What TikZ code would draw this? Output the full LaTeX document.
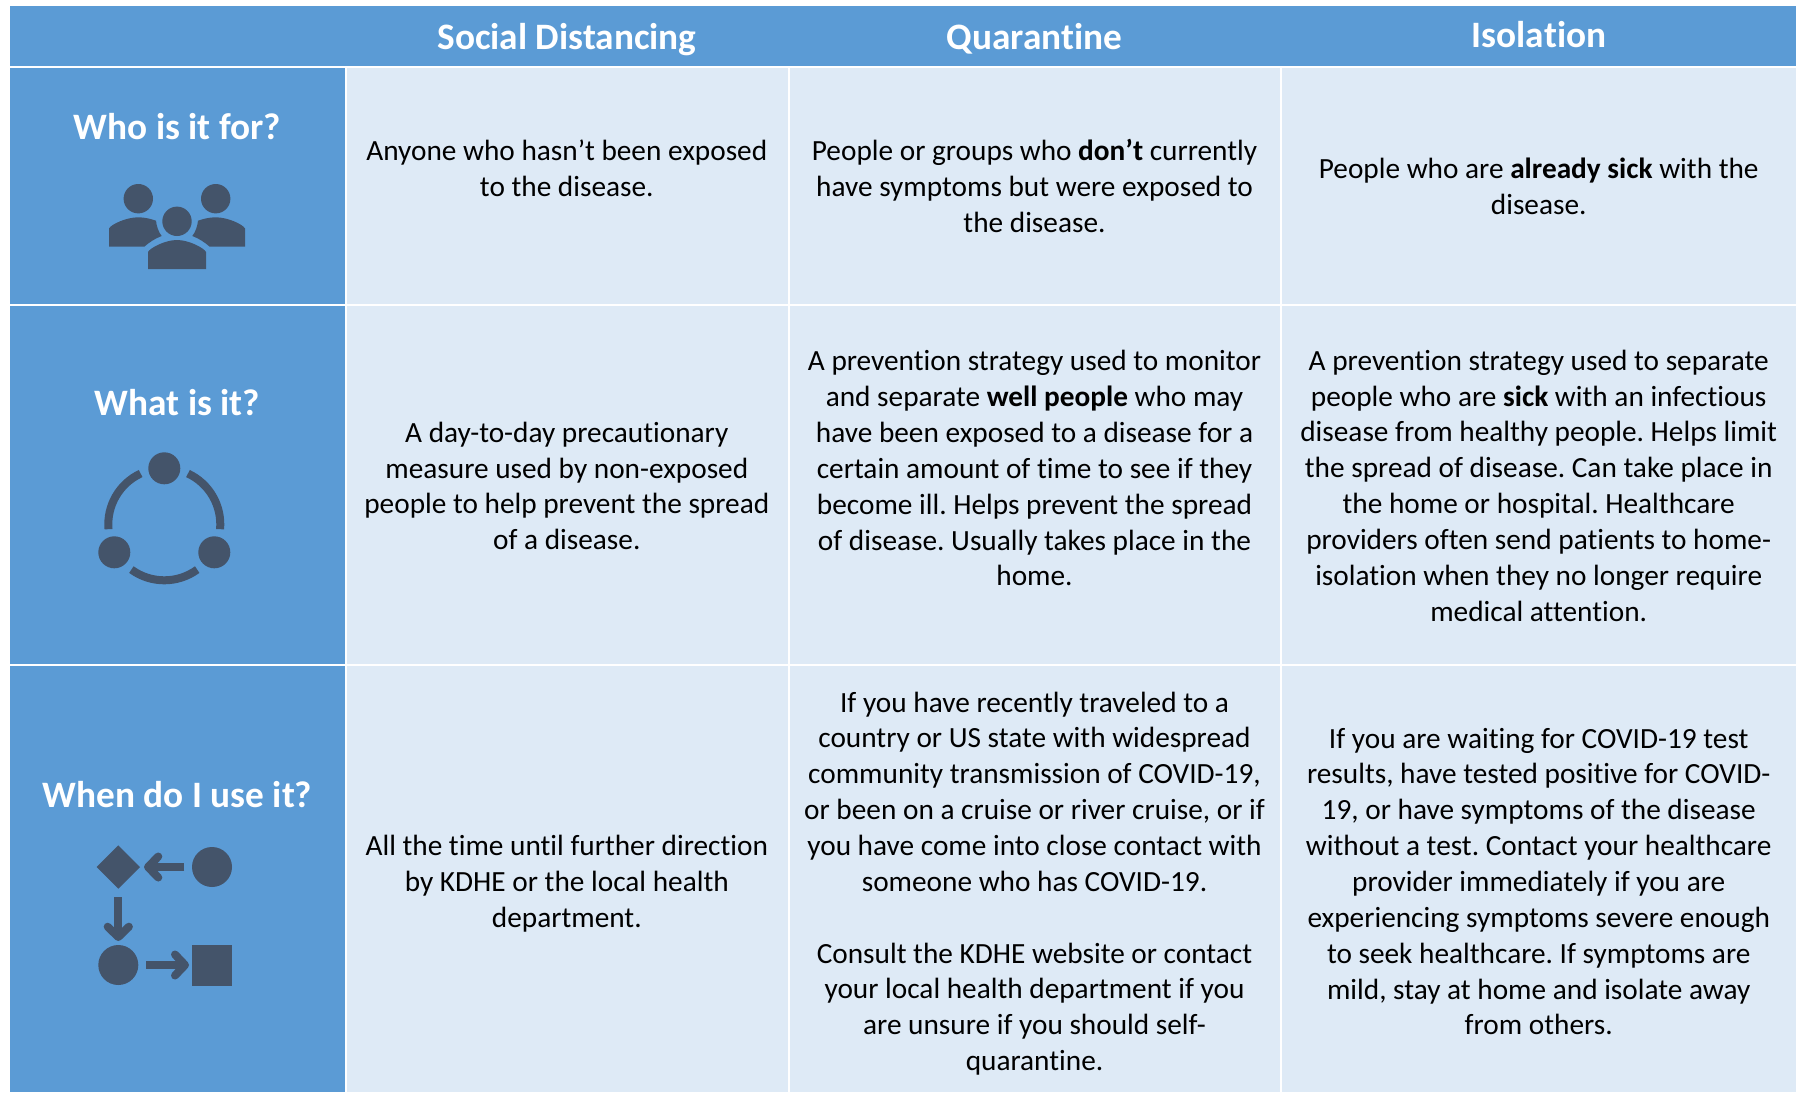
\documentclass[tikz,border=0pt]{standalone}
\usepackage{fontspec}
\setmainfont[Ligatures=NoCommon]{Carlito}
\definecolor{headblue}{HTML}{5B9BD5}
\definecolor{paleblue}{HTML}{DEEAF6}
\definecolor{icondark}{HTML}{44546A}
\tikzset{
  bluecell/.style={fill=headblue,draw=none},
  palecell/.style={fill=paleblue,draw=none},
  bodytext/.style={align=center,text=black,inner sep=0pt,font=\fontsize{29.3}{35.85}\selectfont\frenchspacing},
  headtext/.style={align=center,text=white,inner sep=0pt,font=\fontsize{37.3}{44}\selectfont\bfseries},
  iconfill/.style={fill=icondark,draw=none},
  iconline/.style={draw=icondark,line width=8pt},
  barb/.style={draw=icondark,line width=8pt,line cap=round,line join=round},
}
\begin{document}
\begin{tikzpicture}[x=1pt,y=-1pt]
\useasboundingbox (0,0) rectangle (1803,1092);
\fill[white] (0,0) rectangle (1803,1092);
% cells
\fill[bluecell] (10,6) rectangle (1796,66);
\fill[bluecell] (10,68) rectangle (345,304);
\fill[bluecell] (10,306) rectangle (345,664);
\fill[bluecell] (10,666) rectangle (345,1092);
\fill[palecell] (347,68) rectangle (788,304);
\fill[palecell] (790,68) rectangle (1280,304);
\fill[palecell] (1282,68) rectangle (1796,304);
\fill[palecell] (347,306) rectangle (788,664);
\fill[palecell] (790,306) rectangle (1280,664);
\fill[palecell] (1282,306) rectangle (1796,664);
\fill[palecell] (347,666) rectangle (788,1092);
\fill[palecell] (790,666) rectangle (1280,1092);
\fill[palecell] (1282,666) rectangle (1796,1092);
% headers
\node[headtext] (h1) at (567,39.5) {Social Distancing};
\node[headtext] (h2) at (1034.5,38.5) {Quarantine};
\node[headtext] (h3) at (1539,35) {Isolation};
\node[headtext] (r1) at (177.5,127) {Who is it for?};
\node[headtext] (r2) at (177.5,402.5) {What is it?};
\node[headtext] (r3) at (177.5,794.6) {When do I use it?};
% row 1
\node[bodytext] (a1) at (566.8,168.5) {Anyone who hasn’t been exposed\\to the disease.};
\node[bodytext] (a2) at (1034.5,186.3) {People or groups who \textbf{don’t} currently\\have symptoms but were exposed to\\the disease.};
\node[bodytext] (a3) at (1538.7,186.6) {People who are \textbf{already sick} with the\\disease.};
% row 2
\node[bodytext] (b1) at (566.8,485.9) {A day-to-day precautionary\\measure used by non-exposed\\people to help prevent the spread\\of a disease.};
\node[bodytext] (b2) at (1034.5,468.3) {A prevention strategy used to monitor\\and separate \textbf{well people} who may\\have been exposed to a disease for a\\certain amount of time to see if they\\become ill. Helps prevent the spread\\of disease. Usually takes place in the\\home.};
\node[bodytext] (b3) at (1538.7,485.6) {A prevention strategy used to separate\\people who are \textbf{sick} with an infectious\\disease from healthy people. Helps limit\\the spread of disease. Can take place in\\the home or hospital. Healthcare\\providers often send patients to home-\\isolation when they no longer require\\medical attention.};
% row 3
\node[bodytext] (c1) at (566.8,884) {All the time until further direction\\by KDHE or the local health\\department.};
\node[bodytext] (c2) at (1034.5,883.5) {If you have recently traveled to a\\country or US state with widespread\\community transmission of COVID-19,\\or been on a cruise or river cruise, or if\\you have come into close contact with\\someone who has COVID-19.\\[35.85pt]Consult the KDHE website or contact\\your local health department if you\\are unsure if you should self-\\quarantine.};
\node[bodytext] (c3) at (1538.7,881.5) {If you are waiting for COVID-19 test\\results, have tested positive for COVID-\\19, or have symptoms of the disease\\without a test. Contact your healthcare\\provider immediately if you are\\experiencing symptoms severe enough\\to seek healthcare. If symptoms are\\mild, stay at home and isolate away\\from others.};
% people icon
\fill[iconfill] (138.3,198.7) circle[radius=14.7pt];
\fill[iconfill] (215.7,198.7) circle[radius=14.7pt];
\fill[iconfill] (177,221.3) circle[radius=14.7pt];
\fill[iconfill] (148,269) -- (148,252) .. controls (150,248) and (165,240) .. (177,240) .. controls (189,240) and (204,248) .. (206,252) -- (206,269) -- cycle;
\fill[iconfill] (109,246.7) -- (109,228.5) .. controls (111,224.5) and (126,217.3) .. (138.3,217.3) .. controls (145,217.3) and (151,219) .. (156,220.7) .. controls (156.5,226) and (158.5,232) .. (161.7,236) .. controls (155,238.5) and (149,242.5) .. (144.3,246.7) -- cycle;
\fill[iconfill] (245,246.7) -- (245,228.5) .. controls (243,224.5) and (228,217.3) .. (215.7,217.3) .. controls (209,217.3) and (203,219) .. (198,220.7) .. controls (197.5,226) and (195.5,232) .. (192.3,236) .. controls (199,238.5) and (205,242.5) .. (209.7,246.7) -- cycle;
% cycle icon
\coordinate (cyc) at (164.3,524.3);
\fill[iconfill] (164.3,468.3) circle[radius=16pt];
\fill[iconfill] (114.3,552.3) circle[radius=16pt];
\fill[iconfill] (214.3,552.3) circle[radius=16pt];
\draw[iconline] ([shift={(115:56pt)}]cyc) arc[start angle=115,end angle=185,radius=56pt];
\draw[iconline] ([shift={(65:56pt)}]cyc) arc[start angle=65,end angle=-5,radius=56pt];
\draw[iconline] ([shift={(234:56pt)}]cyc) arc[start angle=234,end angle=306,radius=56pt];
% flow icon
\fill[iconfill] (118.3,845.3) -- (140,867) -- (118.3,888.7) -- (96.6,867) -- cycle;
\fill[iconfill] (212,867) circle[radius=20pt];
\fill[iconfill] (118.3,965) circle[radius=20pt];
\fill[iconfill] (192,945) rectangle (232,985.7);
\draw[iconline] (184,867) -- (150,867);
\draw[barb] (158.3,856.5) -- (148,867) -- (158.3,877.5);
\draw[iconline] (118.3,897) -- (118.3,932);
\draw[barb] (107.7,926.7) -- (118.3,937) -- (128.9,926.7);
\draw[iconline] (146.3,965) -- (180,965);
\draw[barb] (175,954.5) -- (185,965) -- (175,975.5);
\end{tikzpicture}
\end{document}
